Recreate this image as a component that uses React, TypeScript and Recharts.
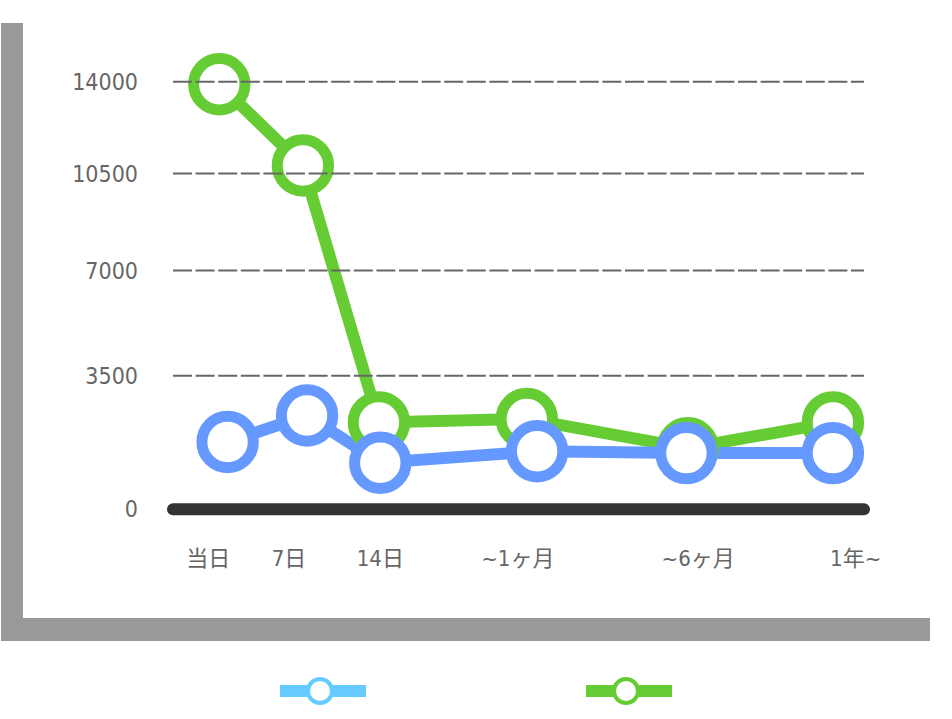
import React from 'react';
import { LineChart, Line, XAxis, YAxis, CartesianGrid, Legend } from 'recharts';

// Period categories along the horizontal axis and where their labels sit
const periods = ['当日', '7日', '14日', '~1ヶ月', '~6ヶ月', '1年~'];
const periodLabelPos = [0.51, 1.68, 3.0, 4.99, 7.6, 9.88];

// Series positions on the period axis and their values
const blueX = [0.79, 1.94, 3.0, 5.27, 7.43, 9.55];
const blueValues = [1550, 2300, 1000, 1300, 1250, 1250];
const greenX = [0.67, 1.88, 2.98, 5.12, 7.45, 9.55];
const greenValues = [13900, 10800, 2100, 2200, 1380, 2100];

const yTicks = [0, 3500, 7000, 10500, 14000];
// Dashed guides above the baseline (the zero line is the thick axis)
const gridValues = yTicks.filter((t) => t > 0);

const blueData = blueX.map((x, i) => ({ x, v: blueValues[i] }));
const greenData = greenX.map((x, i) => ({ x, v: greenValues[i] }));

const BLUE = '#6699FF';
const BLUE_KEY = '#66CCFF';
const GREEN = '#66CC33';

// Minimal d3-style power scale so the value axis can use a custom exponent
function powScale(exponent: number): any {
  let dom: number[] = [0, 1];
  let rng: number[] = [0, 1];
  const tf = (v: number) => Math.sign(v) * Math.pow(Math.abs(v), exponent);
  const itf = (v: number) => Math.sign(v) * Math.pow(Math.abs(v), 1 / exponent);
  const scale: any = (value: any) => {
    const n = Number(value);
    const a = tf(dom[0]);
    const b = tf(dom[dom.length - 1]);
    const r0 = rng[0];
    const r1 = rng[rng.length - 1];
    return r0 + ((tf(n) - a) / (b - a)) * (r1 - r0);
  };
  scale.domain = (d?: any[]) => {
    if (d === undefined) return dom.slice();
    dom = d.map(Number);
    return scale;
  };
  scale.range = (r?: any[]) => {
    if (r === undefined) return rng.slice();
    rng = r.map(Number);
    return scale;
  };
  scale.invert = (p: number) => {
    const a = tf(dom[0]);
    const b = tf(dom[dom.length - 1]);
    const r0 = rng[0];
    const r1 = rng[rng.length - 1];
    return itf(a + ((p - r0) / (r1 - r0)) * (b - a));
  };
  scale.ticks = (count = 10) => {
    const lo = dom[0];
    const hi = dom[dom.length - 1];
    const out: number[] = [];
    for (let i = 0; i <= count; i++) out.push(lo + ((hi - lo) * i) / count);
    return out;
  };
  scale.tickFormat = () => (d: number) => String(d);
  scale.nice = () => scale;
  scale.clamp = () => scale;
  scale.copy = () => powScale(exponent).domain(dom).range(rng);
  return scale;
}

const tickFont = "'DejaVu Sans Condensed', 'Liberation Sans', 'Noto Sans CJK JP', sans-serif";

const legendItems = [
  { key: 'blue', color: BLUE_KEY },
  { key: 'green', color: GREEN },
];

const renderLegend = () => (
  <div style={{ display: 'flex', justifyContent: 'center', gap: 220 }}>
    {legendItems.map((item) => (
      <svg key={item.key} width={86} height={40} style={{ display: 'block' }}>
        <line x1={0} y1={20} x2={86} y2={20} stroke={item.color} strokeWidth={12} />
        <circle cx={40} cy={20} r={12} fill="#fff" stroke={item.color} strokeWidth={4} />
      </svg>
    ))}
  </div>
);

export default function App() {
  return (
    <div style={{ position: 'absolute', left: 0, top: 0, width: 952, height: 719, background: '#fff' }}>
      <div style={{ position: 'absolute', left: 1, top: 23, width: 929, height: 618, background: '#999' }} />
      <div style={{ position: 'absolute', left: 23, top: 0, width: 929, height: 618, background: '#fff' }} />
      <div style={{ position: 'absolute', left: 0, top: 0 }}>
        <LineChart
          width={952}
          height={719}
          margin={{ top: 81.7, right: 88, bottom: 149.7, left: 0 }}
        >
          <XAxis
            type="number"
            dataKey="x"
            domain={[0, 10]}
            ticks={periodLabelPos}
            interval={0}
            tickFormatter={(_v: number, i: number) => periods[i]}
            height={60}
            tickSize={0}
            tickMargin={41}
            tickLine={false}
            axisLine={{ stroke: '#333', strokeWidth: 12, strokeLinecap: 'round' }}
            tick={{ fill: '#666', fontSize: 22, fontFamily: tickFont }}
          />
          <YAxis
            type="number"
            domain={[0, 14000]}
            ticks={yTicks}
            scale={powScale(0.84)}
            width={173}
            tickSize={0}
            tickMargin={35}
            tickLine={false}
            axisLine={false}
            interval={0}
            tick={{ fill: '#666', fontSize: 23, fontFamily: tickFont }}
          />
          <Line
            data={greenData}
            dataKey="v"
            type="linear"
            stroke={GREEN}
            strokeWidth={12}
            dot={{ r: 25.7, fill: '#fff', stroke: GREEN, strokeWidth: 11 }}
            activeDot={false}
            isAnimationActive={false}
          />
          <Line
            data={blueData}
            dataKey="v"
            type="linear"
            stroke={BLUE}
            strokeWidth={12}
            dot={{ r: 25.7, fill: '#fff', stroke: BLUE, strokeWidth: 11 }}
            activeDot={false}
            isAnimationActive={false}
          />
          <CartesianGrid
            vertical={false}
            horizontalValues={gridValues}
            stroke="#666"
            strokeWidth={2}
            strokeDasharray="19 3.6"
            zIndex={1000}
          />
          <Legend
            layout="vertical"
            align="center"
            verticalAlign="middle"
            wrapperStyle={{ left: 0, top: 670.5, width: 952, height: 40 }}
            content={renderLegend}
          />
        </LineChart>
      </div>
    </div>
  );
}
